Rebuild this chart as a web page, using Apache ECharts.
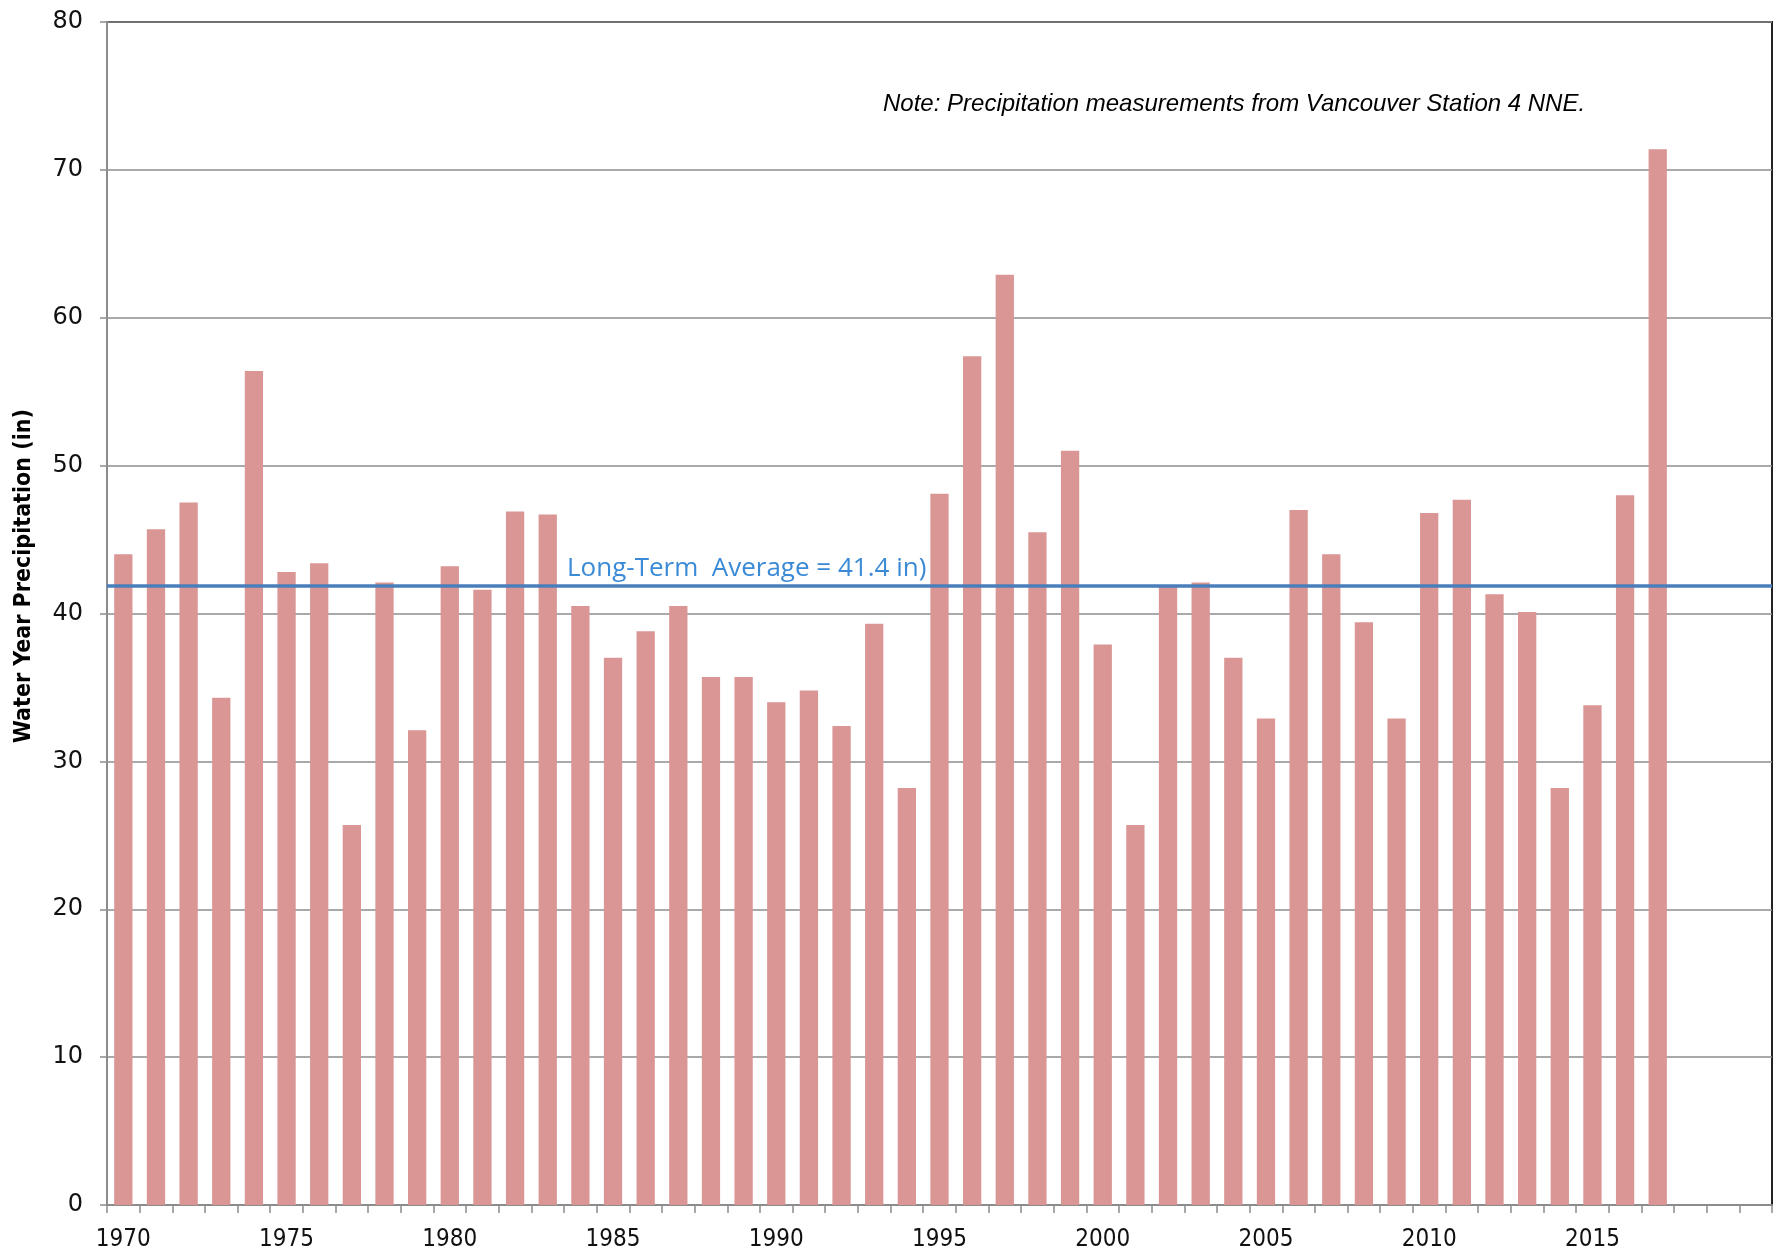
<!DOCTYPE html>
<html>
<head>
<meta charset="utf-8">
<script src="https://cdn.jsdelivr.net/npm/echarts@6/dist/echarts.min.js"></script>
<style>
html,body{margin:0;padding:0;background:#fff;}
#chart{width:1785px;height:1254px;}
</style>
</head>
<body>
<div id="chart"></div>
<script>
//年份 1970-2020
var years=[];
for(var y=1970;y<=2020;y++){years.push(String(y));}
//年降水量(in) 1970-2017
var precip=[44.0,45.7,47.5,34.3,56.4,42.8,43.4,25.7,42.1,32.1,
    43.2,41.6,46.9,46.7,40.5,37.0,38.8,40.5,35.7,35.7,
    34.0,34.8,32.4,39.3,28.2,48.1,57.4,62.9,45.5,51.0,
    37.9,25.7,41.9,42.1,37.0,32.9,47.0,44.0,39.4,32.9,
    46.8,47.7,41.3,40.1,28.2,33.8,48.0,71.4];
var avgLine=41.9;
var avgText='Long-Term  Average = 41.4 in)';
var noteText='Note: Precipitation measurements from Vancouver Station 4 NNE.';
var yTitle='Water Year Precipitation (in)';

var chart=echarts.init(document.getElementById('chart'));
var option={
    animation:false,
    grid:{left:107,top:22,right:13,bottom:49,show:true,borderColor:'#222',borderWidth:2},
    xAxis:{
        type:'category',
        data:years,
        boundaryGap:true,
        axisLine:{lineStyle:{color:'#8c8c8c',width:2}},
        axisTick:{show:true,interval:0,length:8,lineStyle:{color:'#8c8c8c',width:1.5}},
        axisLabel:{
            interval:function(i,v){return i%5===0&&Number(v)<2020;},
            margin:23,
            color:'#111',
            fontFamily:'Liberation Sans Narrow, DejaVu Sans Condensed, sans-serif',
            fontSize:24
        },
        splitLine:{show:false}
    },
    yAxis:{
        type:'value',
        min:0,max:80,interval:10,
        axisLine:{show:true,lineStyle:{color:'#8c8c8c',width:2}},
        axisTick:{show:true,length:7,lineStyle:{color:'#8c8c8c',width:1.5}},
        axisLabel:{margin:24,color:'#111',fontFamily:'DejaVu Sans',fontSize:24},
        splitLine:{lineStyle:{color:'#8c8c8c',width:1.5}}
    },
    series:[{
        type:'bar',
        data:precip,
        barCategoryGap:'44%',
        itemStyle:{color:'#d99694'},
        markLine:{
            silent:true,
            symbol:'none',
            label:{show:false},
            lineStyle:{color:'#4a7ebb',width:3.5,type:'solid'},
            data:[{yAxis:avgLine}]
        }
    }],
    graphic:[
        {type:'text',left:567,top:556,style:{text:avgText,fill:'#3a8ad6',font:'26px "Open Sans", sans-serif'}},
        {type:'text',left:883,top:92,style:{text:noteText,fill:'#000',font:'italic 24px "Liberation Sans", Arial, sans-serif'}},
        {type:'text',x:24,y:576,rotation:Math.PI/2,style:{text:yTitle,fill:'#000',align:'center',verticalAlign:'middle',font:'bold 23px "Liberation Sans Narrow", "DejaVu Sans Condensed", sans-serif'}}
    ]
};
chart.setOption(option);
</script>
</body>
</html>
